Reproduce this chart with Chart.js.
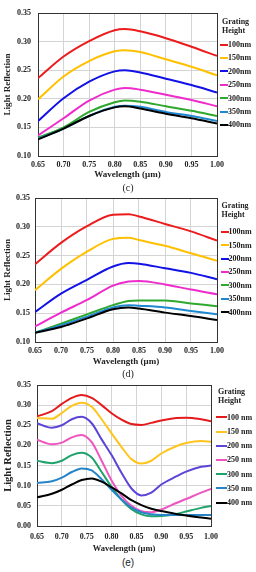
<!DOCTYPE html>
<html lang="en">
<head>
<meta charset="UTF-8">
<title>Light Reflection vs Wavelength</title>
<script src="https://cdn.jsdelivr.net/npm/chart.js"></script>
<style>
  body { margin: 0; background: #fff; }
  #wrap { position: relative; width: 256px; height: 572px; overflow: hidden; font-family: "Liberation Serif", serif; }
  canvas { position: absolute; left: 0; }
  .lbl { position: absolute; font-weight: bold; font-size: 8px; line-height: 9px; color: #222; white-space: nowrap; }
  .key { position: absolute; height: 2px; }
  .cap { position: absolute; left: 0; width: 256px; text-align: center; font-size: 10px; line-height: 12px; color: #222; }
</style>
</head>
<body>
<div id="wrap">
  <canvas id="chartC" width="256" height="182" style="top:0"></canvas>
  <canvas id="chartD" width="256" height="183" style="top:185px"></canvas>
  <canvas id="chartE" width="256" height="184" style="top:372px"></canvas>
  <div class="cap" style="top:182px">(c)</div>
  <div class="cap" style="top:368px">(d)</div>
  <div class="cap" style="top:557px;font-family:'Liberation Sans',sans-serif">(e)</div>
</div>
<script>
// grating heights
const heightsCD = ['100nm', '150nm', '200nm', '250nm', '300nm', '350nm', '400nm'];
const heightsE = ['100 nm', '150 nm', '200 nm', '250 nm', '300 nm', '350 nm', '400 nm'];

// (c)
const wavelengthC = [0.65, 0.70, 0.75, 0.80, 0.82, 0.85, 0.90, 0.95, 1.00];
const c100 = [0.236, 0.274, 0.301, 0.320, 0.322, 0.318, 0.306, 0.291, 0.275];
const c150 = [0.199, 0.239, 0.266, 0.283, 0.285, 0.282, 0.269, 0.256, 0.241];
const c200 = [0.161, 0.201, 0.230, 0.248, 0.250, 0.246, 0.235, 0.224, 0.211];
const c250 = [0.136, 0.166, 0.197, 0.216, 0.219, 0.216, 0.207, 0.198, 0.187];
const c300 = [0.132, 0.150, 0.177, 0.194, 0.197, 0.195, 0.187, 0.179, 0.170];
const c350 = [0.130, 0.148, 0.170, 0.186, 0.188, 0.186, 0.177, 0.170, 0.161];
const c400 = [0.129, 0.148, 0.170, 0.185, 0.187, 0.183, 0.174, 0.166, 0.157];

// (d)
const wavelengthD = [0.65, 0.70, 0.75, 0.80, 0.83, 0.85, 0.90, 0.95, 1.00];
const d100 = [0.235, 0.272, 0.301, 0.321, 0.322, 0.318, 0.305, 0.292, 0.276];
const d150 = [0.190, 0.227, 0.257, 0.279, 0.281, 0.277, 0.267, 0.254, 0.241];
const d200 = [0.152, 0.184, 0.208, 0.231, 0.237, 0.236, 0.228, 0.220, 0.209];
const d250 = [0.127, 0.151, 0.173, 0.198, 0.205, 0.206, 0.200, 0.191, 0.183];
const d300 = [0.116, 0.132, 0.148, 0.164, 0.171, 0.172, 0.172, 0.167, 0.162];
const d350 = [0.116, 0.129, 0.144, 0.160, 0.164, 0.163, 0.160, 0.154, 0.148];
const d400 = [0.116, 0.126, 0.141, 0.157, 0.160, 0.158, 0.151, 0.145, 0.138];

// (e)
const wavelengthE = [0.65, 0.68, 0.70, 0.72, 0.74, 0.76, 0.78, 0.80, 0.82, 0.84, 0.86, 0.88, 0.90, 0.93, 0.95, 0.98, 1.00];
const e100 = [0.272, 0.285, 0.303, 0.318, 0.325, 0.318, 0.300, 0.280, 0.264, 0.253, 0.251, 0.256, 0.262, 0.268, 0.269, 0.265, 0.260];
const e150 = [0.268, 0.266, 0.281, 0.298, 0.306, 0.296, 0.265, 0.230, 0.196, 0.166, 0.155, 0.162, 0.180, 0.198, 0.206, 0.211, 0.209];
const e200 = [0.255, 0.244, 0.250, 0.265, 0.271, 0.255, 0.215, 0.176, 0.132, 0.093, 0.076, 0.083, 0.103, 0.123, 0.135, 0.147, 0.150];
const e250 = [0.214, 0.203, 0.207, 0.220, 0.226, 0.208, 0.162, 0.113, 0.075, 0.050, 0.037, 0.034, 0.041, 0.057, 0.067, 0.083, 0.092];
const e300 = [0.162, 0.156, 0.162, 0.176, 0.182, 0.170, 0.134, 0.097, 0.065, 0.042, 0.029, 0.024, 0.025, 0.030, 0.036, 0.045, 0.050];
const e350 = [0.107, 0.111, 0.120, 0.134, 0.143, 0.138, 0.116, 0.090, 0.066, 0.046, 0.034, 0.029, 0.027, 0.027, 0.027, 0.027, 0.027];
const e400 = [0.071, 0.080, 0.090, 0.103, 0.114, 0.118, 0.110, 0.096, 0.081, 0.064, 0.052, 0.043, 0.037, 0.030, 0.026, 0.021, 0.018];

const coloursCD = ['#ec1c1c', '#ffc000', '#1212e6', '#ee2ccc', '#2ea82e', '#1e88d0', '#000000'];
const coloursE = ['#e41a1c', '#ffc41e', '#5a45d8', '#ee55c0', '#1fa36a', '#2585c8', '#000000'];

// dark frame round the plot area
const boxPlugin = {
  id: 'box',
  beforeDatasetsDraw(chart) {
    const a = chart.chartArea, ctx = chart.ctx;
    ctx.save();
    ctx.strokeStyle = '#333';
    ctx.lineWidth = 1;
    ctx.strokeRect(Math.round(a.left) + 0.5, Math.round(a.top) + 0.5, Math.round(a.right - a.left), Math.round(a.bottom - a.top));
    ctx.restore();
  }
};

function makeChart(id, xs, series, names, colours, o) {
  const tickFont = { family: 'Liberation Serif', weight: 'bold', size: 8 };
  new Chart(document.getElementById(id), {
    type: 'line',
    data: {
      datasets: series.map((s, i) => ({
        label: names[i],
        data: s.map((v, j) => ({ x: xs[j], y: v })),
        borderColor: colours[i],
        borderWidth: 2,
        pointRadius: 0,
        cubicInterpolationMode: 'monotone',
        fill: false,
        order: series.length - i
      }))
    },
    options: {
      responsive: false,
      animation: false,
      plugins: { legend: { display: false }, tooltip: { enabled: false } },
      layout: { padding: { top: 13, right: o.right, left: 0, bottom: 0 } },
      scales: {
        x: {
          type: 'linear', min: 0.65, max: 1.0,
          ticks: { stepSize: 0.05, padding: o.xPad, font: tickFont, color: '#222', callback: v => v.toFixed(2) },
          grid: { color: '#d4d4d4', drawTicks: false },
          border: { display: false },
          title: { display: true, text: 'Wavelength (μm)', color: '#222', font: { family: 'Liberation Serif', weight: 'bold', size: o.xtSize }, padding: { top: 0, bottom: o.xtPad } },
          afterFit: s => { s.height = o.xh; }
        },
        y: {
          min: o.ymin, max: 0.35,
          ticks: { stepSize: 0.05, padding: o.yPad, font: tickFont, color: '#222', callback: v => v.toFixed(2) },
          grid: { color: '#d4d4d4', drawTicks: false },
          border: { display: false },
          title: { display: true, text: 'Light Reflection', color: '#222', font: { family: 'Liberation Serif', weight: 'bold', size: o.ytSize }, padding: { top: o.ytPad, bottom: 0 } },
          afterFit: s => { s.width = o.yw; }
        }
      }
    },
    plugins: [boxPlugin]
  });
}

function addLegend(names, colours, o) {
  const wrap = document.getElementById('wrap');
  const t1 = document.createElement('div');
  t1.className = 'lbl';
  t1.style.left = o.titleX + 'px';
  t1.style.top = (o.titleY - 4.5) + 'px';
  t1.innerHTML = 'Grating<br>Height';
  wrap.appendChild(t1);
  names.forEach((n, i) => {
    const y = o.firstY + o.step * i;
    const k = document.createElement('div');
    k.className = 'key';
    k.style.left = o.lineX + 'px';
    k.style.width = o.lineW + 'px';
    k.style.top = (y - 1) + 'px';
    k.style.background = colours[i];
    wrap.appendChild(k);
    const t = document.createElement('div');
    t.className = 'lbl';
    t.style.left = (o.lineX + o.lineW) + 'px';
    t.style.top = (y - 4.5) + 'px';
    t.textContent = n;
    wrap.appendChild(t);
  });
}

makeChart('chartC', wavelengthC, [c100, c150, c200, c250, c300, c350, c400], heightsCD, coloursCD,
  { right: 39, yw: 38, xh: 26, xPad: 4, yPad: 7, xtPad: 2, ytPad: 2, xtSize: 9, ytSize: 9, ymin: 0.10 });
makeChart('chartD', wavelengthD, [d100, d150, d200, d250, d300, d350, d400], heightsCD, coloursCD,
  { right: 39, yw: 35, xh: 26, xPad: 4, yPad: 5, xtPad: 1, ytPad: 2, xtSize: 9, ytSize: 9, ymin: 0.10 });
makeChart('chartE', wavelengthE, [e100, e150, e200, e250, e300, e350, e400], heightsE, coloursE,
  { right: 45, yw: 37, xh: 30, xPad: 6, yPad: 6, xtPad: 2, ytPad: 2, xtSize: 8.5, ytSize: 10.5, ymin: 0 });

addLegend(heightsCD, coloursCD, { titleX: 222, titleY: 21, firstY: 44.5, step: 13.4, lineX: 220, lineW: 8 });
addLegend(heightsCD, coloursCD, { titleX: 221.5, titleY: 205.7, firstY: 231.7, step: 13.4, lineX: 220.5, lineW: 8 });
addLegend(heightsE, coloursE, { titleX: 218, titleY: 391.7, firstY: 417.3, step: 14.2, lineX: 216, lineW: 11 });
</script>
</body>
</html>
